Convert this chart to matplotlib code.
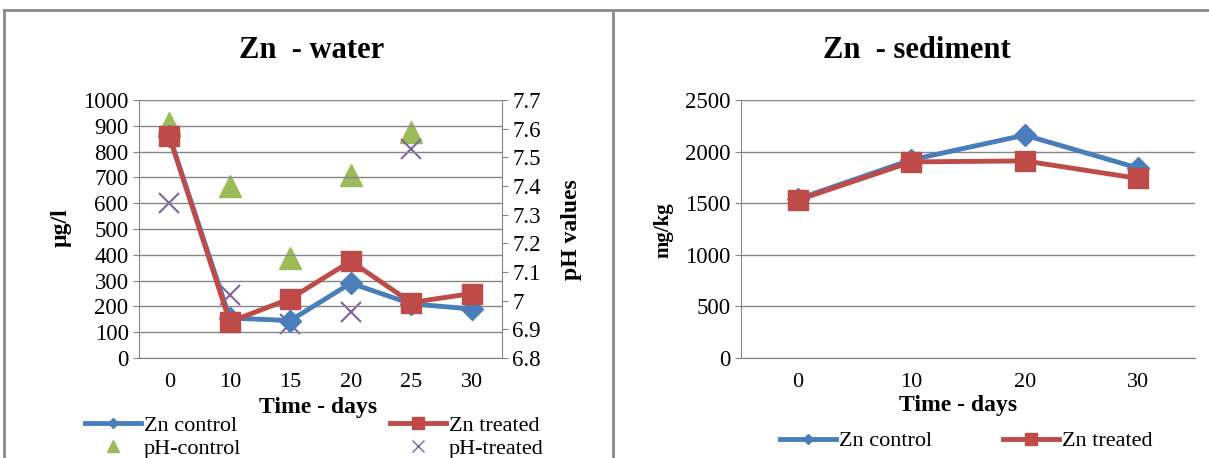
import matplotlib.pyplot as plt
from matplotlib.lines import Line2D

plt.rcParams['font.family'] = ['Liberation Serif', 'DejaVu Serif']

# water chart data
water_days = ["0", "10", "15", "20", "25", "30"]
zn_control_water = [860, 155, 145, 290, 210, 190]
zn_treated_water = [860, 140, 230, 375, 215, 250]
ph_control = [7.62, 7.40, 7.15, 7.44, 7.59, None]
ph_treated = [7.34, 7.02, 6.92, 6.96, 7.53, None]

# sediment chart data
sed_days = ["0", "10", "20", "30"]
zn_control_sed = [1540, 1920, 2160, 1840]
zn_treated_sed = [1530, 1900, 1910, 1740]

BLUE = "#4A7EBB"
RED = "#BE4B48"
GREEN = "#9BBB59"
PURPLE = "#8064A2"
GRID = "#868686"

W, H = 1209, 458
fig = plt.figure(figsize=(W / 100, H / 100), dpi=100)


def px(x0, y0, x1, y1):
    return [x0 / W, 1 - y1 / H, (x1 - x0) / W, (y1 - y0) / H]


def ftext(x, y, s, **kw):
    fig.text(x / W, 1 - y / H, s, ha='center', va='center', **kw)


def style(ax):
    ax.grid(axis='y', color=GRID, lw=1)
    ax.set_axisbelow(True)
    for s in ['top', 'right']:
        ax.spines[s].set_visible(False)
    for s in ['left', 'bottom']:
        ax.spines[s].set_color(GRID)
    ax.tick_params(axis='y', colors=GRID, labelcolor='black', labelsize=16.5, length=4)
    ax.tick_params(axis='x', length=0, labelsize=16, pad=11)


def column_legend(handles, labels, x, y):
    fig.legend(handles, labels, loc='center left', bbox_to_anchor=(x / W, 1 - y / H),
               frameon=False, fontsize=16, handlelength=2.5, handletextpad=0.15,
               labelspacing=0.1, borderpad=0, borderaxespad=0)


h_zc = Line2D([], [], color=BLUE, lw=3.5, marker='D', ms=5)
h_zt = Line2D([], [], color=RED, lw=3.5, marker='s', ms=8)
h_pc = Line2D([], [], color=GREEN, ls='none', marker='^', ms=8)
h_pt = Line2D([], [], color=PURPLE, ls='none', marker='x', ms=8, mew=1)

# ---- left: Zn - water
ax1 = fig.add_axes(px(139, 100, 502, 358))
xs = list(range(len(water_days)))
ax1.plot(xs, zn_control_water, '-D', color=BLUE, lw=3.5, ms=11)
ax1.plot(xs, zn_treated_water, '-s', color=RED, lw=3.5, ms=14)
ax1.set_ylim(0, 1000)
ax1.set_yticks(range(0, 1001, 100))
ax1.set_xlim(-0.5, len(water_days) - 0.5)
ax1.set_xticks(xs, water_days)
style(ax1)

ax2 = ax1.twinx()
ph_x = [x for x, v in zip(xs, ph_control) if v is not None]
ax2.plot(ph_x, [v for v in ph_control if v is not None], '^', color=GREEN, ms=16, ls='none')
ax2.plot(ph_x, [v for v in ph_treated if v is not None], 'x', color=PURPLE, ms=15, mew=1.5, ls='none')
ax2.set_ylim(6.8, 7.7)
ax2.set_yticks([6.8, 6.9, 7.0, 7.1, 7.2, 7.3, 7.4, 7.5, 7.6, 7.7],
               ["6.8", "6.9", "7", "7.1", "7.2", "7.3", "7.4", "7.5", "7.6", "7.7"])
for s in ['top', 'left', 'bottom']:
    ax2.spines[s].set_visible(False)
ax2.spines['right'].set_color(GRID)
ax2.tick_params(axis='y', colors=GRID, labelcolor='black', labelsize=16.5, length=4)
ax2.set_zorder(ax1.get_zorder() - 1)
ax1.patch.set_visible(False)

ftext(312, 50, "Zn  - water", fontsize=22, fontweight='bold')
ftext(61, 228, "µg/l", fontsize=17, fontweight='bold', rotation=90)
ftext(572, 230, "pH values", fontsize=17, fontweight='bold', rotation=90)
ftext(318, 407, "Time - days", fontsize=17, fontweight='bold')
column_legend([h_zc, h_pc], ["Zn control", "pH-control"], 85, 437)
column_legend([h_zt, h_pt], ["Zn treated", "pH-treated"], 390, 437)

# ---- right: Zn - sediment
ax3 = fig.add_axes(px(741, 100, 1195, 358))
xs2 = list(range(len(sed_days)))
ax3.plot(xs2, zn_control_sed, '-D', color=BLUE, lw=3.5, ms=11)
ax3.plot(xs2, zn_treated_sed, '-s', color=RED, lw=3.5, ms=14)
ax3.set_ylim(0, 2500)
ax3.set_yticks(range(0, 2501, 500))
ax3.set_xlim(-0.5, len(sed_days) - 0.5)
ax3.set_xticks(xs2, sed_days)
style(ax3)

ftext(917, 50, "Zn  - sediment", fontsize=22, fontweight='bold')
ftext(663, 230, "mg/kg", fontsize=15, fontweight='bold', rotation=90)
ftext(958, 406, "Time - days", fontsize=17, fontweight='bold')
column_legend([h_zc], ["Zn control"], 780, 441)
column_legend([h_zt], ["Zn treated"], 1003, 441)

# chart frames
for xx, yy in [([4, 1209], [10, 10]), ([4, 4], [10, 458]), ([613, 613], [10, 458])]:
    fig.add_artist(Line2D([x / W for x in xx], [1 - y / H for y in yy],
                          color="#8a8a8a", lw=2))

fig.savefig("out.png", dpi=100)
